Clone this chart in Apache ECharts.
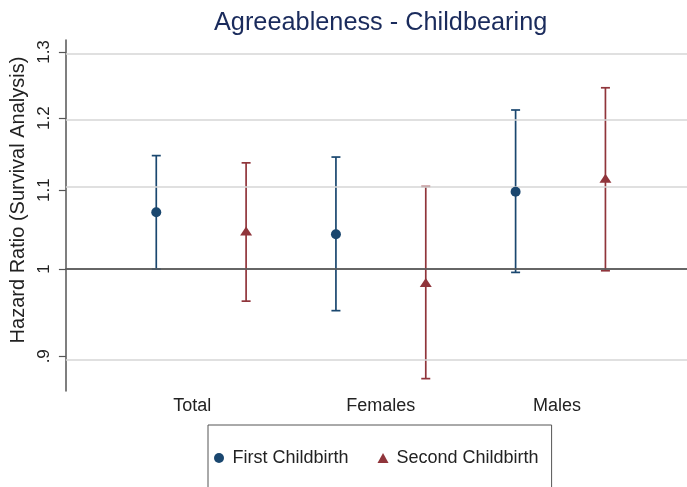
<!DOCTYPE html>
<html>
<head>
<meta charset="utf-8">
<script src="https://cdn.jsdelivr.net/npm/echarts@6/dist/echarts.min.js"></script>
<style>
  html, body { margin: 0; padding: 0; background: #ffffff; }
  #chart { width: 687px; height: 487px; }
</style>
</head>
<body>
<div id="chart"></div>
<script>
// Groups on the horizontal axis and where their labels sit
const groups = ['Total', 'Females', 'Males'];
const groupLabelPos = [0.95, 2.0, 2.98];

// Hazard ratios with 95% confidence bounds
const firstHR = [1.071, 1.043, 1.098];
const firstLo = [1.000, 0.951, 0.996];
const firstHi = [1.147, 1.145, 1.212];

const secondHR = [1.046, 0.983, 1.115];
const secondLo = [0.962, 0.876, 0.998];
const secondHi = [1.137, 1.105, 1.245];

// Vertical axis (log scale) ticks and range
const yTicks = [0.9, 1, 1.1, 1.2, 1.3];
const yTickText = ['.9', '1', '1.1', '1.2', '1.3'];
const yRange = [0.863, 1.319];

// Horizontal axis range
const xRange = [0.247, 3.704];

const FONT = '"Liberation Sans", Arial, sans-serif';
const BLUE = '#1a476f';
const RED = '#90353b';
const ln = Math.log;

function nearestIndex(list, v) {
  let best = 0;
  list.forEach((p, i) => { if (Math.abs(p - v) < Math.abs(list[best] - v)) best = i; });
  return best;
}

function errorBars(name, offset, lo, hi, color) {
  return {
    type: 'custom',
    name: name,
    z: 3,
    silent: true,
    data: groups.map((g, i) => [i + 1 + offset, ln(lo[i]), ln(hi[i])]),
    encode: { x: 0, y: [1, 2] },
    renderItem: function (params, api) {
      const top = api.coord([api.value(0), api.value(2)]);
      const bot = api.coord([api.value(0), api.value(1)]);
      const hw = 4.5;
      const style = { stroke: color, lineWidth: 1.7, fill: null };
      return {
        type: 'group',
        children: [
          { type: 'line', shape: { x1: top[0], y1: top[1], x2: bot[0], y2: bot[1] }, style: style },
          { type: 'line', shape: { x1: top[0] - hw, y1: top[1], x2: top[0] + hw, y2: top[1] }, style: style },
          { type: 'line', shape: { x1: bot[0] - hw, y1: bot[1], x2: bot[0] + hw, y2: bot[1] }, style: style }
        ]
      };
    }
  };
}

const chart = echarts.init(document.getElementById('chart'), null, { renderer: 'canvas' });

chart.setOption({
  backgroundColor: '#ffffff',
  animation: false,
  title: {
    text: 'Agreeableness - Childbearing',
    left: 214,
    top: 11,
    padding: 0,
    textStyle: { fontFamily: FONT, fontSize: 25.3, fontWeight: 'normal', color: '#1a2b5c' }
  },
  legend: {
    data: ['First Childbirth', 'Second Childbirth'],
    left: 208,
    top: 425,
    orient: 'horizontal',
    borderColor: '#555555',
    borderWidth: 1,
    padding: [24, 13, 40, 6],
    itemGap: 29,
    itemWidth: 11,
    itemHeight: 10,
    textStyle: { fontFamily: FONT, fontSize: 18, color: '#222222', padding: [0, 0, 0, 3] }
  },
  grid: { left: 64, right: 0, top: 40, bottom: 96 },
  xAxis: {
    type: 'value',
    min: xRange[0],
    max: xRange[1],
    axisLine: { show: true, lineStyle: { color: '#555555', width: 1.5 } },
    axisTick: { show: false },
    splitLine: { show: false },
    axisLabel: {
      customValues: groupLabelPos,
      margin: 6,
      fontFamily: FONT,
      fontSize: 18,
      color: '#222222',
      formatter: v => groups[nearestIndex(groupLabelPos, v)]
    }
  },
  yAxis: {
    type: 'value',
    min: ln(yRange[0]),
    max: ln(yRange[1]),
    name: 'Hazard Ratio (Survival Analysis)',
    nameLocation: 'middle',
    nameRotate: 90,
    nameGap: 33,
    nameTextStyle: { fontFamily: FONT, fontSize: 20, color: '#222222', padding: [0, 0, 0, 31] },
    axisLine: { show: true, lineStyle: { color: '#555555', width: 1.5 } },
    axisTick: {
      show: true,
      length: 7,
      customValues: yTicks.map(ln),
      lineStyle: { color: '#555555', width: 1.2 }
    },
    splitLine: { show: false },
    axisLabel: {
      customValues: yTicks.map(ln),
      rotate: 90,
      margin: 13,
      fontFamily: FONT,
      fontSize: 17,
      color: '#222222',
      formatter: v => yTickText[nearestIndex(yTicks.map(ln), v)]
    }
  },
  series: [
    {
      // reference lines at each tick, with the null line at 1 drawn darker
      type: 'line',
      name: 'grid',
      z: 1,
      silent: true,
      data: [],
      markLine: {
        silent: true,
        symbol: 'none',
        label: { show: false },
        animation: false,
        data: yTicks.map(v => ({
          yAxis: ln(v),
          lineStyle: v === 1
            ? { color: '#5e5e5e', width: 1.5, type: 'solid' }
            : { color: '#d6d6d6', width: 1.5, type: 'solid' }
        }))
      }
    },
    errorBars('First Childbirth CI', -0.25, firstLo, firstHi, BLUE),
    errorBars('Second Childbirth CI', 0.25, secondLo, secondHi, RED),
    {
      type: 'scatter',
      name: 'First Childbirth',
      z: 5,
      symbol: 'circle',
      symbolSize: 10,
      itemStyle: { color: BLUE, opacity: 1 },
      data: groups.map((g, i) => [i + 1 - 0.25, ln(firstHR[i])])
    },
    {
      type: 'scatter',
      name: 'Second Childbirth',
      z: 5,
      symbol: 'triangle',
      symbolSize: [12, 9],
      symbolOffset: [0, -0.8],
      itemStyle: { color: RED, opacity: 1 },
      data: groups.map((g, i) => [i + 1 + 0.25, ln(secondHR[i])])
    }
  ]
});
</script>
</body>
</html>
